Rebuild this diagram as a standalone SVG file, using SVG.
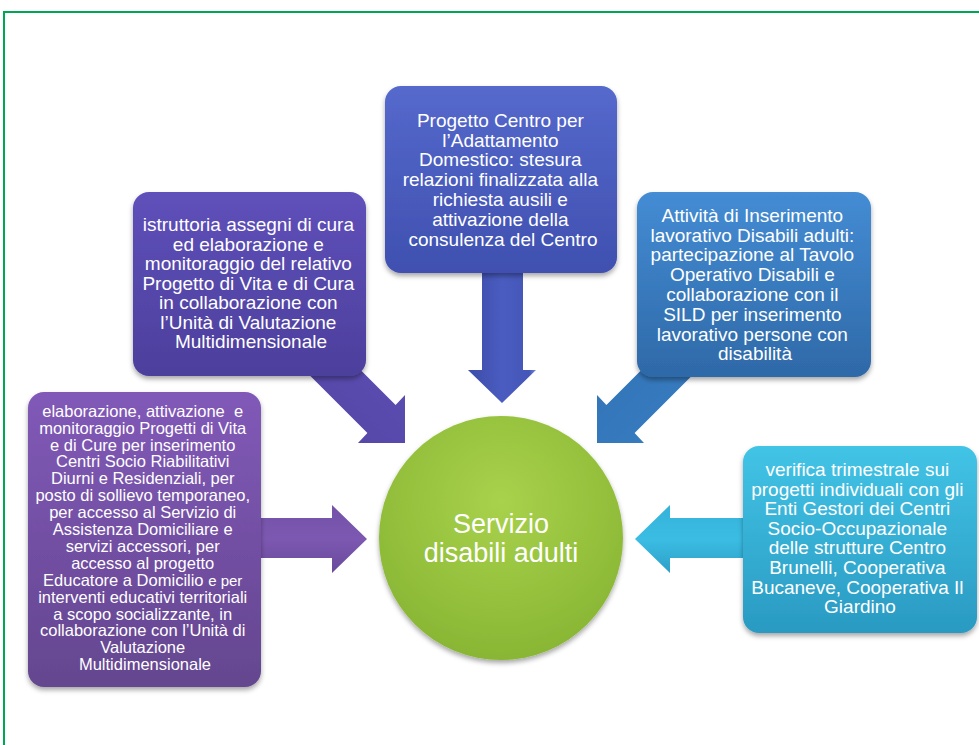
<svg xmlns="http://www.w3.org/2000/svg" width="979" height="745" viewBox="0 0 979 745">
<defs>
<style>
.t{font-family:"Liberation Sans",Arial,sans-serif;fill:#ffffff;text-anchor:middle}
.b19{font-size:19px}
.b16{font-size:16.5px}
.c{font-size:27px}
.box{filter:url(#sh)}
</style>
<filter id="sh" x="-10%" y="-10%" width="120%" height="125%">
<feDropShadow dx="0" dy="3" stdDeviation="2.5" flood-color="#000" flood-opacity="0.35"/>
</filter>
<linearGradient id="gTop" x1="0" y1="0" x2="0" y2="1"><stop offset="0" stop-color="#5569cc"/><stop offset="1" stop-color="#3f50b0"/></linearGradient>
<linearGradient id="gUL" x1="0" y1="0" x2="0" y2="1"><stop offset="0" stop-color="#5f50ba"/><stop offset="1" stop-color="#4c3f9c"/></linearGradient>
<linearGradient id="gL" x1="0" y1="0" x2="0" y2="1"><stop offset="0" stop-color="#8159b8"/><stop offset="1" stop-color="#64468f"/></linearGradient>
<linearGradient id="gUR" x1="0" y1="0" x2="0" y2="1"><stop offset="0" stop-color="#448cd4"/><stop offset="1" stop-color="#2e69a8"/></linearGradient>
<linearGradient id="gR" x1="0" y1="0" x2="0" y2="1"><stop offset="0" stop-color="#42c4e6"/><stop offset="1" stop-color="#2a9ac2"/></linearGradient>
<radialGradient id="gC" cx="0.5" cy="0.35" r="0.7"><stop offset="0" stop-color="#a9d24c"/><stop offset="1" stop-color="#86b432"/></radialGradient>
<linearGradient id="aTop" x1="0" y1="0" x2="1" y2="0"><stop offset="0" stop-color="#3c4ca8"/><stop offset="0.5" stop-color="#4a5cc0"/><stop offset="0.9" stop-color="#4457b8"/><stop offset="1" stop-color="#7688dc"/></linearGradient>
<linearGradient id="aUL" x1="0" y1="1" x2="1" y2="0"><stop offset="0" stop-color="#5044a0"/><stop offset="1" stop-color="#5f50b8"/></linearGradient>
<linearGradient id="aUR" x1="0" y1="0" x2="1" y2="1"><stop offset="0" stop-color="#3070b2"/><stop offset="1" stop-color="#3a80c6"/></linearGradient>
<linearGradient id="aL" x1="0" y1="0" x2="0" y2="1"><stop offset="0" stop-color="#7352a8"/><stop offset="0.5" stop-color="#7d58b2"/><stop offset="1" stop-color="#684a9a"/></linearGradient>
<linearGradient id="aR" x1="0" y1="0" x2="0" y2="1"><stop offset="0" stop-color="#34b2da"/><stop offset="0.5" stop-color="#3bbde3"/><stop offset="1" stop-color="#2d9fc8"/></linearGradient>
</defs>
<rect x="0" y="0" width="979" height="745" fill="#ffffff"/>
<g id="frame" fill="none" stroke="#00a651" stroke-width="2">
<path d="M4,745 V12 H979"/>
</g>
<g id="connectors">
<path id="a-top" d="M482,262 H523 V370 H536 L502,403 L468,370 H482 Z" fill="url(#aTop)"/>
<path id="a-ul" d="M295.6,304.9 L395.6,404.9 L405,395 L405,443 L358,443 L367.4,433.1 L267.4,333.1 Z" fill="url(#aUL)"/>
<path id="a-ur" d="M706.4,304.9 L606.4,404.9 L597,395 L597,443 L644,443 L634.6,433.1 L734.6,333.1 Z" fill="url(#aUR)"/>
<path id="a-l" d="M250,518 H332 V505 L367,539 L332,573 V558 H250 Z" fill="url(#aL)"/>
<path id="a-r" d="M752,518 H670 V505 L635,539 L670,573 V558 H752 Z" fill="url(#aR)"/>
</g>
<g id="center">
<circle cx="501" cy="538" r="122" fill="url(#gC)" class="box"/>
<text class="t c" x="501" y="533">Servizio</text>
<text class="t c" x="501" y="562">disabili adulti</text>
</g>
<g id="n-top">
<rect class="box" x="385" y="86" width="232" height="187" rx="16" fill="url(#gTop)"/>
<text class="t b19" x="503">
<tspan x="503" y="126.7">Progetto Centro per</tspan>
<tspan x="503" y="146.5">l’Adattamento</tspan>
<tspan x="503" y="166.3">Domestico: stesura</tspan>
<tspan x="503" y="186.1">relazioni finalizzata alla</tspan>
<tspan x="503" y="205.9">richiesta ausili e</tspan>
<tspan x="503" y="225.7">attivazione della</tspan>
<tspan x="503" y="245.5">consulenza del Centro</tspan>
</text>
</g>
<g id="n-upper-left">
<rect class="box" x="133" y="192" width="233" height="184" rx="16" fill="url(#gUL)"/>
<text class="t b19">
<tspan x="251" y="231">istruttoria assegni di cura</tspan>
<tspan x="251" y="250.5">ed elaborazione e</tspan>
<tspan x="251" y="270">monitoraggio del relativo</tspan>
<tspan x="251" y="289.5">Progetto di Vita e di Cura</tspan>
<tspan x="251" y="309">in collaborazione con</tspan>
<tspan x="251" y="328.5">l’Unità di Valutazione</tspan>
<tspan x="251" y="348">Multidimensionale</tspan>
</text>
</g>
<g id="n-upper-right">
<rect class="box" x="637" y="192" width="234" height="185" rx="16" fill="url(#gUR)"/>
<text class="t b19">
<tspan x="755" y="221.7">Attività di Inserimento</tspan>
<tspan x="755" y="241.5">lavorativo Disabili adulti:</tspan>
<tspan x="755" y="261.3">partecipazione al Tavolo</tspan>
<tspan x="755" y="281.1">Operativo Disabili e</tspan>
<tspan x="755" y="300.9">collaborazione con il</tspan>
<tspan x="755" y="320.7">SILD per inserimento</tspan>
<tspan x="755" y="340.5">lavorativo persone con</tspan>
<tspan x="755" y="360.3">disabilità</tspan>
</text>
</g>
<g id="n-left">
<rect class="box" x="28" y="392" width="233" height="295" rx="16" fill="url(#gL)"/>
<text class="t b16">
<tspan x="145" y="416.7">elaborazione, attivazione&#160; e</tspan>
<tspan x="145" y="433.6">monitoraggio Progetti di Vita</tspan>
<tspan x="145" y="450.5">e di Cure per inserimento</tspan>
<tspan x="145" y="467.4">Centri Socio Riabilitativi</tspan>
<tspan x="145" y="484.3">Diurni e Residenziali, per</tspan>
<tspan x="145" y="501.2">posto di sollievo temporaneo,</tspan>
<tspan x="145" y="518.1">per accesso al Servizio di</tspan>
<tspan x="145" y="535">Assistenza Domiciliare e</tspan>
<tspan x="145" y="551.9">servizi accessori, per</tspan>
<tspan x="145" y="568.8">accesso al progetto</tspan>
<tspan x="145" y="585.7">Educatore a Domicilio <tspan font-size="15px">e per</tspan></tspan>
<tspan x="145" y="602.6">interventi educativi territoriali</tspan>
<tspan x="145" y="619.5">a scopo socializzante, in</tspan>
<tspan x="145" y="636.4">collaborazione con l’Unità di</tspan>
<tspan x="145" y="653.3">Valutazione</tspan>
<tspan x="145" y="670.2">Multidimensionale</tspan>
</text>
</g>
<g id="n-right">
<rect class="box" x="743" y="446" width="234" height="187" rx="16" fill="url(#gR)"/>
<text class="t b19">
<tspan x="860" y="476">verifica trimestrale sui</tspan>
<tspan x="860" y="495.6">progetti individuali con gli</tspan>
<tspan x="860" y="515.2">Enti Gestori dei Centri</tspan>
<tspan x="860" y="534.8">Socio-Occupazionale</tspan>
<tspan x="860" y="554.4">delle strutture Centro</tspan>
<tspan x="860" y="574">Brunelli, Cooperativa</tspan>
<tspan x="860" y="593.6">Bucaneve, Cooperativa Il</tspan>
<tspan x="860" y="613.2">Giardino</tspan>
</text>
</g>
</svg>
